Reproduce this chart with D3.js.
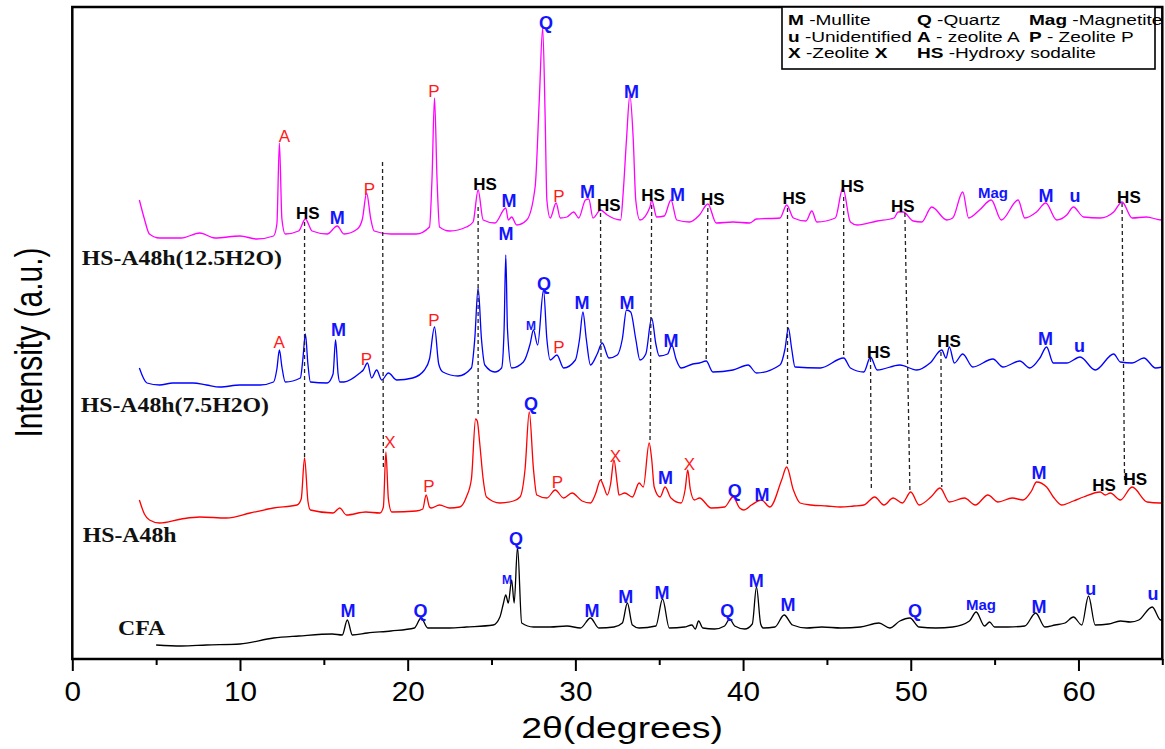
<!DOCTYPE html>
<html><head><meta charset="utf-8">
<script src="https://cdn.jsdelivr.net/npm/d3@7"></script>
<style>body{margin:0;background:#fff} svg{display:block}</style>
</head><body>
<svg id="chart" width="1165" height="749"></svg>
<script>
// ---------- data ----------
const xTicksMajor = [0, 10, 20, 30, 40, 50, 60];
const xTicksMinor = [5, 15, 25, 35, 45, 55, 65];
const seriesNames = ["CFA", "HS-A48h", "HS-A48h(7.5H2O)", "HS-A48h(12.5H2O)"];

// [2theta, intensity (a.u., stacked offset included)]
const cfa = [[5.0,14],[6.5,13],[8,14],[10,15],[12,21],[13.5,23],[15.5,25],[16.1,24],[16.4,39],[16.7,24],[17.6,26],[19,28],[20.4,31],[20.8,41],[21.2,31],[22.5,31],[23.5,32],[25.1,34],[25.5,42],[25.7,55],[25.85,64],[26.0,56],[26.2,79],[26.35,56],[26.55,112],[26.8,36],[27.5,32],[28.5,32],[29.5,33],[30.3,31],[30.9,41],[31.4,31],[32.3,32],[32.8,36],[33.1,56],[33.4,34],[33.8,31],[34.8,33],[35.2,60],[35.6,31],[36.5,32],[36.95,34],[37.15,30],[37.35,38],[37.6,31],[38.3,30],[38.9,33],[39.2,40],[39.5,33],[40.1,30],[40.55,35],[40.8,72],[41.05,35],[41.2,31],[41.9,32],[42.45,44],[42.95,34],[43.8,31],[44.7,32],[45.85,31],[47,32],[48.1,36],[48.75,31],[49.35,38],[49.95,41],[50.5,32],[51.5,31],[52.5,32],[53.5,38],[53.9,47],[54.4,33],[54.7,37],[55.0,32],[55.8,32],[56.8,33],[57.45,46],[58.0,32],[58.6,34],[59.2,36],[59.7,42],[60.2,34],[60.6,63],[61.0,34],[61.8,35],[62.5,38],[63.1,37],[63.6,39],[64.4,52],[64.9,39],[65.0,39]];

const hsA48h = [[4.0,159],[4.3,145],[4.6,139],[5.2,136],[6.5,140],[7.6,142],[9.2,141],[10.6,146],[12.0,151],[13.4,154],[13.65,160],[13.85,201],[14.05,158],[14.2,149],[15.55,146],[15.95,151],[16.35,144],[17.5,147],[18.35,146],[18.55,152],[18.7,207],[18.85,160],[19.05,147],[20.5,148],[20.9,150],[21.1,164],[21.3,152],[21.4,151],[21.9,154],[22.5,151],[23.1,152],[23.5,162],[23.8,180],[24.05,240],[24.15,238],[24.3,215],[24.5,180],[24.7,162],[25.5,156],[26.3,158],[26.7,162],[27.0,190],[27.25,247],[27.5,190],[27.7,164],[28.3,161],[28.8,169],[29.3,161],[29.8,166],[30.4,158],[30.9,156],[31.2,165],[31.5,179],[31.7,172],[31.9,164],[32.1,175],[32.3,199],[32.5,175],[32.6,164],[32.95,166],[33.4,162],[33.8,176],[34.05,172],[34.4,216],[34.55,200],[34.7,172],[35.05,162],[35.35,172],[35.7,161],[36.3,156],[36.55,170],[36.7,189],[36.85,170],[37.1,159],[37.4,161],[38.1,151],[38.9,152],[39.4,162],[39.8,151],[40.05,149],[40.5,154],[41.1,159],[41.6,152],[42.3,179],[42.6,192],[43.0,169],[43.4,156],[44.05,154],[45.0,153],[45.8,152],[46.6,153],[47.2,154],[47.85,162],[48.4,154],[48.95,161],[49.5,156],[50.0,167],[50.5,154],[51.2,162],[51.75,171],[52.3,157],[53.2,161],[53.85,154],[54.6,164],[55.2,157],[56.05,161],[56.7,159],[57.2,168],[57.5,177],[58.1,172],[58.5,162],[59.0,154],[59.7,158],[60.3,162],[61.3,167],[61.6,164],[61.9,166],[62.5,159],[63.2,172],[64.1,157],[64.85,156],[65.0,156]];

const hsA48h75 = [[4.0,291],[4.45,276],[5.2,274],[6.0,276],[7.2,276],[8.0,274],[8.8,272],[10.0,274],[11.2,274],[12.0,277],[12.2,290],[12.35,309],[12.5,292],[12.7,277],[13.6,281],[13.75,300],[13.9,325],[14.05,295],[14.2,277],[15.2,276],[15.55,285],[15.7,319],[15.85,285],[15.95,277],[16.2,277],[17.15,286],[17.35,289],[17.6,296],[17.85,281],[18.15,289],[18.45,279],[18.85,286],[19.35,279],[20.3,281],[21.0,289],[21.3,300],[21.6,332],[21.85,295],[22.1,287],[23.0,283],[23.8,291],[24.0,320],[24.2,371],[24.4,320],[24.6,294],[25.2,287],[25.6,291],[25.75,330],[25.85,404],[25.95,330],[26.2,291],[26.9,297],[27.3,315],[27.5,329],[27.75,314],[28.1,369],[28.3,320],[28.5,299],[28.9,304],[29.3,291],[30.0,299],[30.25,320],[30.45,347],[30.65,320],[30.9,294],[31.3,305],[31.6,316],[32.0,301],[32.5,304],[32.8,320],[33.05,349],[33.3,347],[33.6,320],[33.85,299],[34.2,305],[34.55,341],[34.8,315],[35.0,303],[35.5,305],[35.75,314],[36.0,300],[36.3,291],[37.0,295],[37.4,296],[37.8,298],[38.2,287],[39.4,289],[40.3,294],[40.8,286],[42.2,294],[42.5,310],[42.7,331],[42.9,310],[43.1,292],[44.6,291],[46.0,301],[46.4,291],[47.2,287],[47.6,302],[48.0,289],[49.35,294],[50.35,289],[51.15,296],[51.85,309],[52.1,301],[52.3,312],[52.6,296],[53.1,305],[53.7,292],[54.9,300],[55.5,292],[56.5,298],[57.1,291],[57.7,301],[58.1,312],[58.5,296],[59.3,296],[60.1,302],[61.0,289],[62.1,305],[62.5,297],[63.2,296],[63.9,301],[64.6,291],[65.0,292]];

const hsA48h125 = [[4.0,459],[4.3,440],[4.6,425],[5.2,421],[6.5,421],[7.6,426],[8.5,421],[10.0,423],[11.0,420],[12.0,423],[12.2,435],[12.35,516],[12.5,440],[12.7,425],[13.5,428],[13.9,440],[14.3,428],[15.2,425],[15.8,433],[16.2,425],[17.0,430],[17.3,440],[17.55,466],[17.8,440],[18.0,428],[19.0,425],[20.5,425],[21.3,432],[21.45,480],[21.6,561],[21.75,480],[21.9,432],[22.5,428],[23.5,432],[23.9,437],[24.2,469],[24.5,439],[25.2,436],[25.85,451],[26.0,439],[26.2,442],[26.5,434],[27.1,439],[27.6,472],[27.85,560],[28.05,631],[28.2,540],[28.3,459],[28.5,441],[28.85,456],[29.1,441],[29.5,442],[29.9,447],[30.2,441],[30.6,459],[30.8,460],[31.05,441],[31.5,449],[31.9,444],[32.7,439],[32.85,466],[33.05,520],[33.25,564],[33.45,520],[33.6,459],[33.85,439],[34.45,452],[34.55,459],[34.85,442],[35.3,443],[35.7,459],[36.05,439],[36.8,437],[37.4,444],[37.9,455],[38.4,436],[39.4,437],[40.4,436],[40.8,440],[42.2,441],[42.6,454],[43.0,441],[43.75,438],[44.1,448],[44.4,437],[45.5,441],[45.95,471],[46.4,437],[46.8,434],[48.0,438],[49.0,441],[49.25,447],[49.55,447],[50.15,438],[50.65,437],[51.25,452],[52.15,439],[52.5,441],[53.1,467],[53.45,441],[54.1,449],[54.8,459],[55.4,439],[56.4,459],[56.8,441],[57.5,447],[58.05,456],[58.7,439],[59.3,444],[59.7,452],[60.3,442],[61.3,441],[62.1,447],[62.6,457],[63.2,441],[64.05,442],[64.95,439],[65.0,439]];

// dashed guide lines: [theta top, intensity top, theta bottom, intensity bottom]
const guideLines = [[13.85,437,13.85,199],[18.5,497,18.55,191],[24.2,452,24.2,244],[31.5,446,31.55,179],[34.55,454,34.45,216],[37.9,451,37.8,299],[42.65,451,42.65,192],[46.0,462,46.0,301],[49.65,446,49.95,168],[47.6,301,47.65,169],[51.8,307,51.85,172],[62.6,456,62.75,177]];

// phase labels: [text, theta, intensity]
const peakLabels = [
  ["A",12.65,517],["HS",14.05,440],["M",15.8,435],["P",17.72,464],["P",21.57,562],["HS",24.61,469],["M",26.04,452],["Q",28.25,630],["P",29.02,457],["M",30.72,461],["HS",32.0,448],["M",33.35,561],["HS",34.63,458],["M",36.09,458],["HS",38.2,454],["HS",43.06,455],["HS",46.52,467],["HS",49.53,447],["Mag",54.9,461],["M",58.06,457],["u",59.79,457],["HS",63.01,456],
  ["A",12.33,311],["M",15.87,323],["P",17.54,294],["P",21.57,333],["M",25.86,419],["Q",28.13,369],["P",29.02,306],["M",30.39,350],["M",33.08,350],["M",35.7,312],["HS",48.09,301],["HS",52.28,312],["M",58.04,314],["u",60.06,307],
  ["X",18.94,211],["P",21.27,167],["Q",27.35,249],["P",28.93,171],["X",32.39,197],["M",35.37,175],["X",36.8,189],["Q",39.5,162],["M",41.13,158],["M",57.64,180],["HS",61.52,168],["HS",63.39,174],
  ["M",16.44,42],["Q",20.76,42],["Q",26.46,114],["M",30.99,42],["M",33.0,56],["M",35.16,60],["Q",39.06,42],["M",40.79,72],["M",42.68,48],["Q",50.25,42],["Mag",54.19,49],["M",57.64,46],["u",60.74,64],["u",64.44,59]
];
const minorLabels = [["M",25.92,75],["M",27.35,329]];

const legendItems = [
  [["M",1],[" -Mullite",0]], [["Q",1],[" -Quartz",0]], [["Mag",1],[" -Magnetite",0]],
  [["u",1],[" -Unidentified",0]], [["A",1],[" - zeolite A",0]], [["P",1],[" - Zeolite P",0]],
  [["X",1],[" -Zeolite ",0],["X",1]], [["HS",1],[" -Hydroxy sodalite",0]]
];

// ---------- layout ----------
const svg = d3.select("#chart");
const L = 72.3, R = 1162.3, T = 7, B = 659;
const x = d3.scaleLinear().domain([0, 65]).range([L, R]);
const y = d3.scaleLinear().domain([0, B - T]).range([B, T]);
const SANS = "'Liberation Sans', Arial, sans-serif";
const SERIF = "'Liberation Serif', 'Times New Roman', serif";

// series
const seriesData = [cfa, hsA48h, hsA48h75, hsA48h125];
const seriesColors = ["#000000", "#ff0000", "#0000ff", "#ff00ff"];
const line = d3.line().x(d => x(d[0])).y(d => y(d[1])).curve(d3.curveMonotoneX);
svg.append("g").selectAll("path").data(seriesData).join("path")
  .attr("d", line).attr("fill", "none")
  .attr("stroke", (d, i) => seriesColors[i]).attr("stroke-width", 1.3)
  .attr("stroke-linejoin", "round");

// guide lines
svg.append("g").selectAll("line").data(guideLines).join("line")
  .attr("x1", d => x(d[0])).attr("y1", d => y(d[1]))
  .attr("x2", d => x(d[2])).attr("y2", d => y(d[3]))
  .attr("stroke", "#222").attr("stroke-width", 1.3).attr("stroke-dasharray", "4,3");

// peak labels
function lstyle(t) {
  if (["A", "P", "X"].includes(t)) return { fill: "#ff1a1a", w: "normal", s: 17 };
  if (t === "HS") return { fill: "#000", w: "bold", s: 17 };
  if (t === "Mag") return { fill: "#1414ff", w: "bold", s: 15 };
  return { fill: "#1414ff", w: "bold", s: 18 };
}
svg.append("g").selectAll("text").data(peakLabels).join("text")
  .attr("x", d => x(d[1])).attr("y", d => y(d[2]))
  .attr("text-anchor", "middle").attr("font-family", SANS)
  .attr("font-weight", d => lstyle(d[0]).w).attr("font-size", d => lstyle(d[0]).s)
  .attr("fill", d => lstyle(d[0]).fill).text(d => d[0]);
svg.append("g").selectAll("text").data(minorLabels).join("text")
  .attr("x", d => x(d[1])).attr("y", d => y(d[2]))
  .attr("text-anchor", "middle").attr("font-family", SANS)
  .attr("font-weight", "bold").attr("font-size", 12)
  .attr("fill", "#1414ff").text(d => d[0]);

// series names
const namePos = [[118, 635], [82.7, 542], [80.7, 411.7], [81.7, 265]];
svg.append("g").selectAll("text").data(seriesNames).join("text")
  .attr("transform", (d, i) => `translate(${namePos[i][0]},${namePos[i][1]}) scale(1.19,1)`)
  .attr("font-family", SERIF).attr("font-weight", "bold").attr("font-size", 20)
  .attr("fill", "#111").text(d => d);

// axes
const gMaj = svg.append("g").attr("transform", `translate(0,${B})`)
  .call(d3.axisBottom(x).tickValues(xTicksMajor).tickSize(12).tickPadding(10.7).tickFormat(d3.format("d")));
gMaj.select(".domain").remove();
gMaj.selectAll("line").attr("stroke", "#000").attr("stroke-width", 2);
gMaj.selectAll("text").attr("font-family", SANS).attr("font-size", 27).attr("fill", "#000")
  .attr("transform", "scale(1.1,1)");
const gMin = svg.append("g").attr("transform", `translate(0,${B})`)
  .call(d3.axisBottom(x).tickValues(xTicksMinor).tickSize(6).tickFormat(""));
gMin.select(".domain").remove();
gMin.selectAll("line").attr("stroke", "#000").attr("stroke-width", 2);

// frame
svg.append("rect").attr("x", L).attr("y", T).attr("width", R - L).attr("height", B - T)
  .attr("fill", "none").attr("stroke", "#000").attr("stroke-width", 2.5);

// titles
svg.append("text").attr("transform", "translate(622,738) scale(1.29,1)")
  .attr("text-anchor", "middle").attr("font-family", SANS).attr("font-size", 29)
  .attr("fill", "#000").text("2θ(degrees)");
svg.append("text").attr("transform", "translate(42,342.5) scale(1.3,1) rotate(-90)")
  .attr("text-anchor", "middle").attr("font-family", SANS).attr("font-size", 30)
  .attr("fill", "#000").text("Intensity (a.u.)");

// legend
svg.append("rect").attr("x", 782).attr("y", T).attr("width", 373).attr("height", 62)
  .attr("fill", "#fff").attr("stroke", "#000").attr("stroke-width", 1.6);
const legCols = [788, 917, 1029], legRows = [25, 41.7, 58.3];
const lg = svg.append("g");
legendItems.forEach((item, i) => {
  const t = lg.append("text")
    .attr("transform", `translate(${legCols[i % 3]},${legRows[Math.floor(i / 3)]}) scale(1.36,1)`)
    .attr("font-family", SANS).attr("font-size", 14).attr("fill", "#000");
  item.forEach(seg => t.append("tspan").attr("font-weight", seg[1] ? "bold" : "normal").text(seg[0]));
});
</script>
</body></html>
